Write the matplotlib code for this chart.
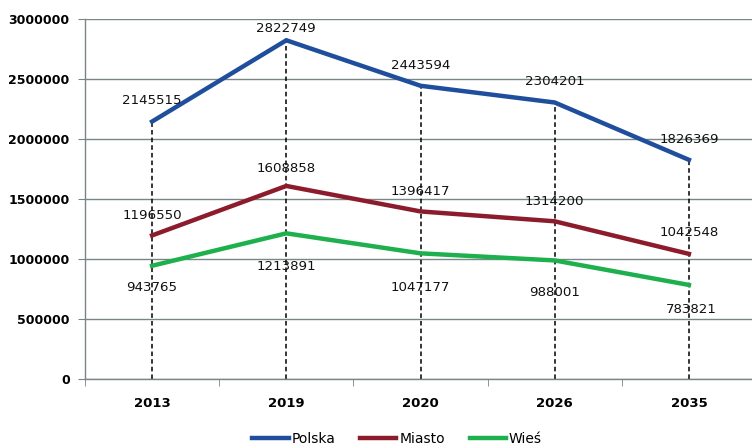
import matplotlib
matplotlib.use("Agg")
import matplotlib.pyplot as plt
import numpy as np

years = ["2013", "2019", "2020", "2026", "2035"]
polska = [2145515, 2822749, 2443594, 2304201, 1826369]
miasto = [1196550, 1608858, 1396417, 1314200, 1042548]
wies = [943765, 1213891, 1047177, 988001, 783821]

# label offsets in pixels (dx, dy) relative to each point
polska_off = [(0, 21), (0, 12), (0, 20), (0, 21), (0, 20)]
miasto_off = [(0, 20), (0, 17), (0, 20), (0, 20), (0, 21)]
wies_off = [(0, -22), (0, -33), (0, -34), (0, -32), (2, -25)]

fig = plt.figure(figsize=(7.52, 4.45), dpi=100)
ax = fig.add_axes([85 / 752, 1 - 379 / 445, 1 - 85 / 752, (379 - 19) / 445])

x = np.arange(len(years))

# dashed drop lines from the top series down to the axis
ax.vlines(x, 0, polska, colors="black", linestyles=(0, (3, 2)), linewidth=1.1, zorder=2)

series = [
    ("Polska", polska, "#1f4e9c", polska_off),
    ("Miasto", miasto, "#8c1c2c", miasto_off),
    ("Wieś", wies, "#1db04c", wies_off),
]
for name, vals, color, offs in series:
    ax.plot(x, vals, color=color, linewidth=3.2, label=name, zorder=3,
            solid_joinstyle="miter")
    for xi, v, (dx, dy) in zip(x, vals, offs):
        ax.annotate(str(v), (xi, v), xytext=(dx, dy), textcoords="offset pixels",
                    ha="center", va="center", fontsize=9.6, color="#111111", zorder=4)

ax.set_xlim(-0.5, 4.47)
ax.set_ylim(0, 3000000)
ax.set_yticks(np.arange(0, 3000001, 500000))
ax.set_yticklabels([str(int(v)) for v in np.arange(0, 3000001, 500000)],
                   fontweight="bold", fontsize=9)
ax.yaxis.grid(True, color="#7a8585", linewidth=1.0)
ax.set_axisbelow(True)

ax.set_xticks(x)
ax.set_xticklabels(years, fontweight="bold", fontsize=9.5)
ax.tick_params(axis="x", which="major", length=0, pad=13)
ax.set_xticks(np.arange(-0.5, 4.5, 1.0), minor=True)
ax.tick_params(axis="x", which="minor", length=5, color="#7a8585", direction="out")
ax.tick_params(axis="y", length=5, color="#7a8585", pad=6)

for side in ["top", "right"]:
    ax.spines[side].set_visible(False)
for side in ["left", "bottom"]:
    ax.spines[side].set_color("#7a8585")
    ax.spines[side].set_linewidth(1.0)

fig.legend(loc="lower center", bbox_to_anchor=(0.528, -0.03), ncol=3, frameon=False,
           fontsize=10, handlelength=2.6, handletextpad=0.2, columnspacing=1.8)

fig.savefig("out.png", dpi=100)
